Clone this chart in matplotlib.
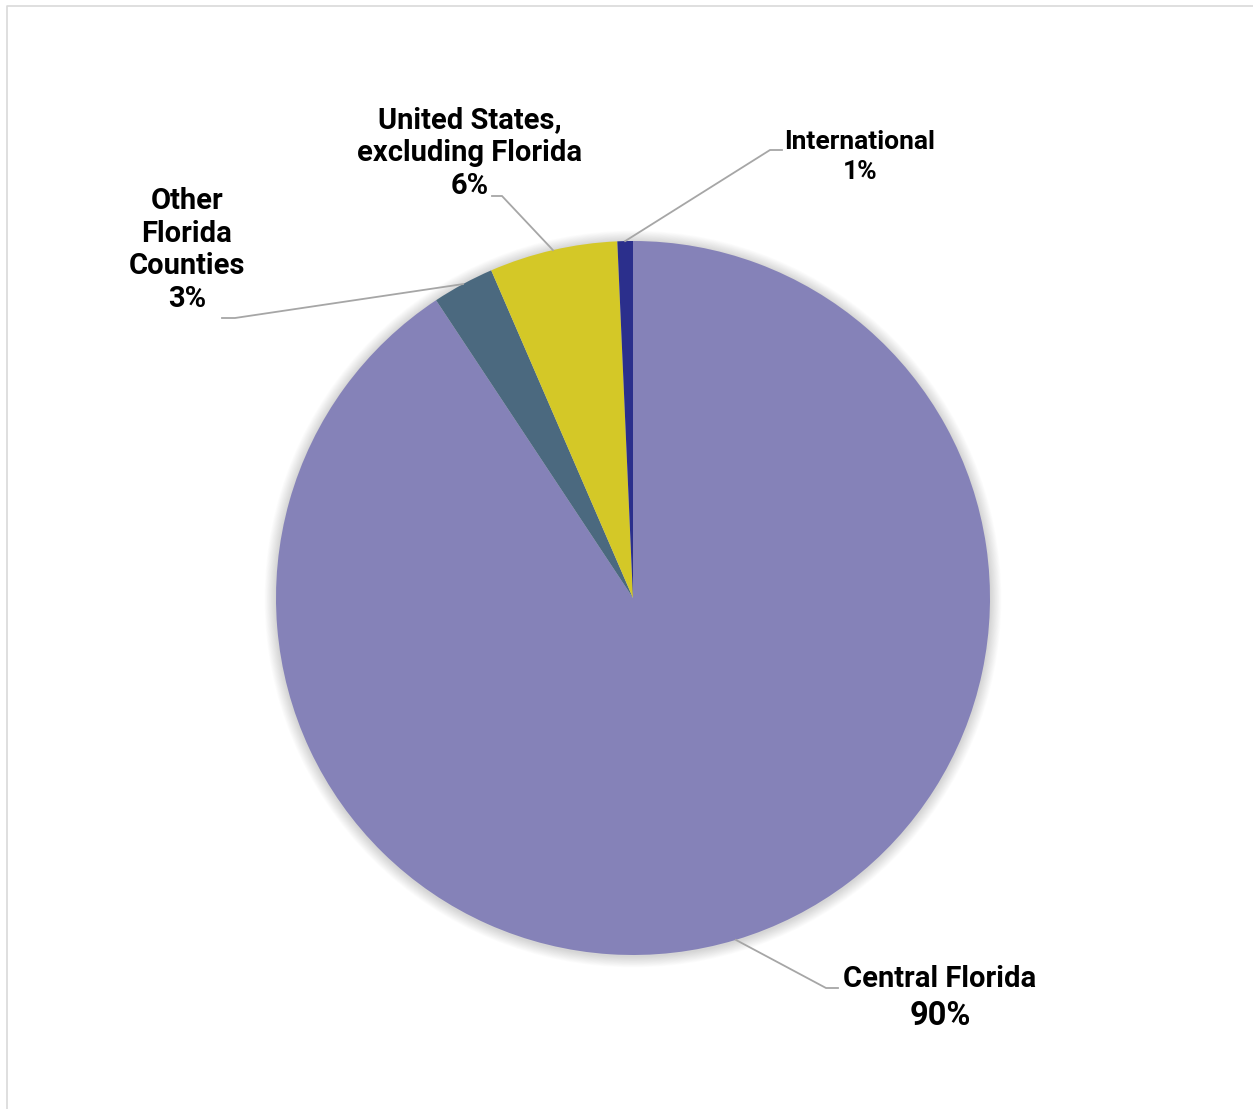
import numpy as np
import matplotlib
matplotlib.use("Agg")
import matplotlib.pyplot as plt
from matplotlib.patches import Circle

# data
labels = ['Central Florida', 'Other\nFlorida\nCounties', 'United States,\nexcluding Florida', 'International']
shares = [90.7, 2.8, 5.8, 0.7]          # slice sizes as measured from the chart
pct_labels = ['90%', '3%', '6%', '1%']  # percentages printed on the chart
colors = ['#8582B8', '#4B697F', '#D4C827', '#2B2F8C']

W, H = 1253, 1109
fig = plt.figure(figsize=(W / 100, H / 100), dpi=100)
ax = fig.add_axes([0, 0, 1, 1])

cx, cy, R = 633, H - 598, 357

# soft shadow around the pie
for k in range(14):
    ax.add_patch(Circle((cx, cy - 1), R + 1 + k * 0.8, color='black',
                        alpha=0.012, lw=0, zorder=0))

wedges, _ = ax.pie(shares, colors=colors, startangle=90, counterclock=False,
                   center=(cx, cy), radius=R, frame=True,
                   wedgeprops=dict(linewidth=0))
ax.set_xlim(0, W)
ax.set_ylim(0, H)
ax.set_aspect('equal')
ax.axis('off')

font = dict(family='Roboto', weight='bold', color='black')

# leader lines: elbow point and end of the short horizontal run
layout = [
    dict(elbow=(826, 988), end=(838, 988)),
    dict(elbow=(235, 318), end=(222, 318)),
    dict(elbow=(502, 196), end=(492, 196)),
    dict(elbow=(770, 150), end=(782, 150)),
]

for w, lay in zip(wedges, layout):
    mid = np.deg2rad((w.theta1 + w.theta2) / 2)
    sx, sy = cx + R * np.cos(mid), cy + R * np.sin(mid)
    ex, ey = lay['elbow']
    hx, hy = lay['end']
    ax.plot([sx, ex, hx], [sy, H - ey, H - hy], color='#A6A6A6', lw=1.3,
            solid_joinstyle='miter', zorder=3)

# Central Florida
ax.text(940, H - 979, labels[0], ha='center', va='center', fontsize=21, **font)
ax.text(940, H - 1016, pct_labels[0], ha='center', va='center', fontsize=23.5, **font)
# Other Florida Counties
ax.text(187, H - 250, f'{labels[1]}\n{pct_labels[1]}', ha='center', va='center',
        fontsize=21, linespacing=1.2, **font)
# United States, excluding Florida
ax.text(470, H - 153, f'{labels[2]}\n{pct_labels[2]}', ha='center', va='center',
        fontsize=21, linespacing=1.22, **font)
# International
ax.text(860, H - 157, f'{labels[3]}\n{pct_labels[3]}', ha='center', va='center',
        fontsize=19, linespacing=1.35, **font)

# chart border (cropped on right and bottom)
ax.plot([7, 7, W + 5], [-5, H - 6, H - 6], color='#D9D9D9', lw=1.2,
        clip_on=False, zorder=1)

fig.savefig('out.png', dpi=100)
